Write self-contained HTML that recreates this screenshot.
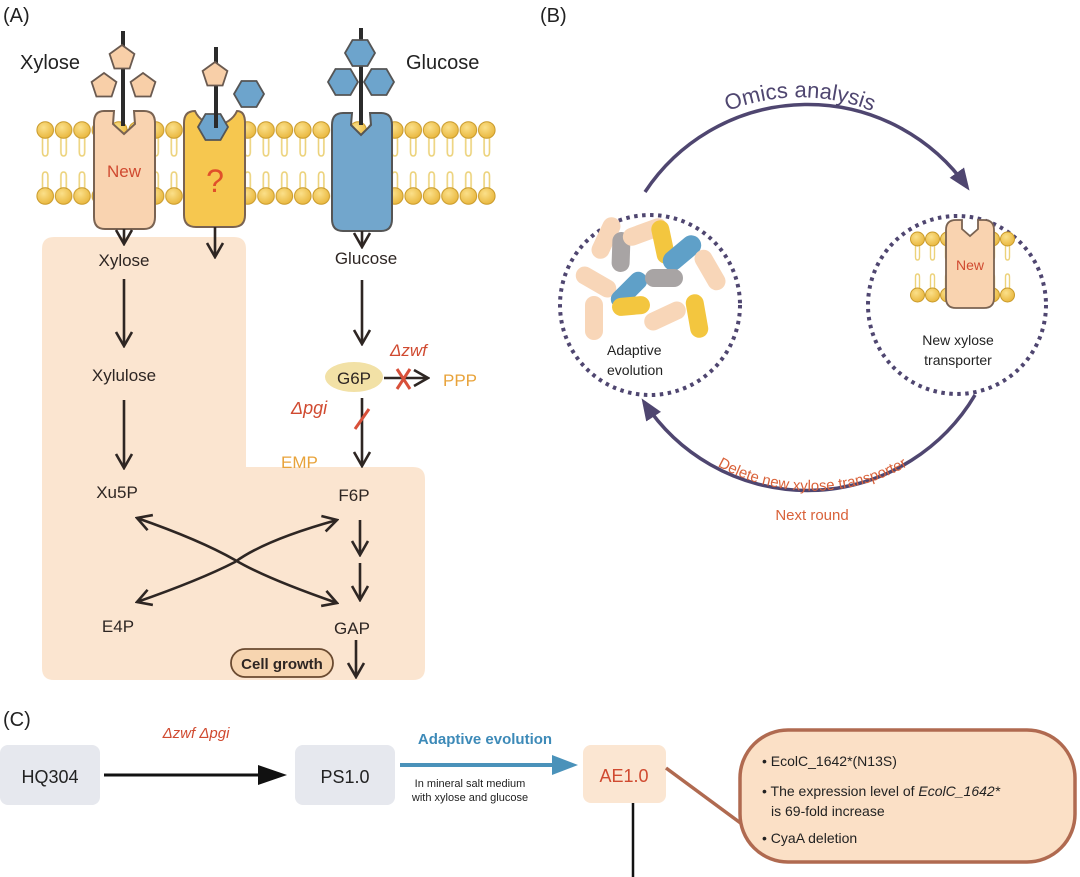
<!DOCTYPE html>
<html><head><meta charset="utf-8"><style>
html,body{margin:0;padding:0;background:#fff;}
svg{display:block;font-family:"Liberation Sans",Arial,sans-serif;}
</style></head><body>
<svg width="1080" height="877" viewBox="0 0 1080 877" xmlns="http://www.w3.org/2000/svg">
<defs>
<radialGradient id="hd" cx="0.4" cy="0.35" r="0.7"><stop offset="0" stop-color="#fbe08a"/><stop offset="1" stop-color="#e8b53a"/></radialGradient>
<pattern id="mem" x="36" y="120" width="18.4" height="90" patternUnits="userSpaceOnUse">
<path d="M6.5 18 V32 Q6.5 36 9.2 36 Q11.9 36 11.9 32 V18 M6.5 70 V56 Q6.5 52 9.2 52 Q11.9 52 11.9 56 V70" fill="none" stroke="#ecd27a" stroke-width="1.6"/>
<circle cx="9.2" cy="10" r="8.3" fill="url(#hd)" stroke="#c99a2a" stroke-width="1"/>
<circle cx="9.2" cy="76" r="8.3" fill="url(#hd)" stroke="#c99a2a" stroke-width="1"/>
</pattern>
<pattern id="mem2" x="910" y="230" width="15" height="75" patternUnits="userSpaceOnUse">
<path d="M5.5 15 V27 Q5.5 30 7.5 30 Q9.5 30 9.5 27 V15 M5.5 58 V47 Q5.5 44 7.5 44 Q9.5 44 9.5 47 V58" fill="none" stroke="#ecd27a" stroke-width="1.4"/>
<circle cx="7.5" cy="9" r="7" fill="url(#hd)" stroke="#c99a2a" stroke-width="1"/>
<circle cx="7.5" cy="65" r="7" fill="url(#hd)" stroke="#c99a2a" stroke-width="1"/>
</pattern>
<marker id="ov" viewBox="0 0 20 20" refX="18" refY="10" markerWidth="20" markerHeight="20" markerUnits="userSpaceOnUse" orient="auto-start-reverse"><path d="M4 2 L18 10 L4 18" fill="none" stroke="#2e2623" stroke-width="2.6"/></marker>
<marker id="pa" viewBox="0 0 20 20" refX="16" refY="10" markerWidth="22" markerHeight="22" markerUnits="userSpaceOnUse" orient="auto"><path d="M0 2 L20 10 L0 18 Z" fill="#4f4670"/></marker>
<polygon id="pent" points="0,-13 12.4,-4 7.6,10.5 -7.6,10.5 -12.4,-4" fill="#f8cfa8" stroke="#6a5a50" stroke-width="1.8"/>
<polygon id="hex" points="-15,0 -7.5,-13 7.5,-13 15,0 7.5,13 -7.5,13" fill="#6da4cc" stroke="#555" stroke-width="1.8"/>
</defs>

<text x="3" y="22" font-size="20" fill="#222">(A)</text>
<path d="M54 237 H234 Q246 237 246 249 V467 H413 Q425 467 425 479 V668 Q425 680 413 680 H54 Q42 680 42 668 V249 Q42 237 54 237 Z" fill="#fbe5d0"/>
<rect x="36" y="120" width="460" height="90" fill="url(#mem)"/>

<path d="M104 111 H114 L113 124 L124 134 L135 124 L134 111 H144 Q155 111 155 123 V217 Q155 229 144 229 H105 Q94 229 94 217 V123 Q94 111 104 111 Z" fill="#f9d3b0" stroke="#7a6352" stroke-width="2"/>
<text x="124" y="177" font-size="17" fill="#d04a30" text-anchor="middle">New</text>
<path d="M195 111 A23 23 0 0 0 237 111 Q245 111 245 123 V215 Q245 227 233 227 H196 Q184 227 184 215 V123 Q184 111 195 111 Z" fill="#f6c74f" stroke="#7a6352" stroke-width="2"/>
<text x="215" y="192" font-size="32" fill="#e0502a" text-anchor="middle">?</text>
<path d="M343 113 H352 L351 125 L361 135 L371 125 L370 113 H381 Q392 113 392 125 V219 Q392 231 381 231 H343 Q332 231 332 219 V125 Q332 113 343 113 Z" fill="#72a6cc" stroke="#555" stroke-width="2"/>

<line x1="123" y1="31" x2="123" y2="126" stroke="#2b2b2b" stroke-width="4"/>
<line x1="216" y1="47" x2="216" y2="128" stroke="#2b2b2b" stroke-width="4"/>
<line x1="361" y1="28" x2="361" y2="125" stroke="#2b2b2b" stroke-width="4"/>

<use href="#pent" x="122" y="58"/>
<use href="#pent" x="104" y="86"/>
<use href="#pent" x="143" y="86"/>
<use href="#pent" x="215" y="75"/>
<use href="#hex" x="360" y="53"/>
<use href="#hex" x="343" y="82"/>
<use href="#hex" x="379" y="82"/>
<use href="#hex" x="249" y="94"/>
<use href="#hex" x="213" y="127"/>
<line x1="216" y1="112" x2="216" y2="128" stroke="#2b2b2b" stroke-width="4"/>
<text x="20" y="69" font-size="20" fill="#222">Xylose</text>
<text x="406" y="69" font-size="20" fill="#222">Glucose</text>

<g stroke="#2e2623" stroke-width="2.6" fill="none">
<line x1="124" y1="229" x2="124" y2="244" marker-end="url(#ov)"/>
<line x1="215" y1="227" x2="215" y2="257" marker-end="url(#ov)"/>
<line x1="362" y1="231" x2="362" y2="247" marker-end="url(#ov)"/>
<line x1="124" y1="279" x2="124" y2="346" marker-end="url(#ov)"/>
<line x1="124" y1="400" x2="124" y2="468" marker-end="url(#ov)"/>
<line x1="362" y1="280" x2="362" y2="344" marker-end="url(#ov)"/>
<line x1="384" y1="378" x2="428" y2="378" marker-end="url(#ov)"/>
<line x1="362" y1="398" x2="362" y2="466" marker-end="url(#ov)"/>
<line x1="360" y1="520" x2="360" y2="555" marker-end="url(#ov)"/>
<line x1="360" y1="563" x2="360" y2="600" marker-end="url(#ov)"/>
<line x1="356" y1="640" x2="356" y2="677" marker-end="url(#ov)"/>
<path d="M137 518 Q200 540 235 560 Q265 578 337 603" marker-start="url(#ov)" marker-end="url(#ov)"/>
<path d="M137 602 Q200 580 235 562 Q265 540 337 520" marker-start="url(#ov)" marker-end="url(#ov)"/>
</g>
<g stroke="#d8503a" stroke-width="3">
<line x1="397" y1="369" x2="410" y2="389"/><line x1="410" y1="369" x2="397" y2="389"/>
<line x1="355" y1="429" x2="369" y2="409"/>
</g>
<g font-size="17" fill="#2e2623" text-anchor="middle">
<text x="124" y="266">Xylose</text>
<text x="366" y="264">Glucose</text>
<text x="124" y="381">Xylulose</text>
<text x="117" y="498">Xu5P</text>
<text x="118" y="632">E4P</text>
<text x="354" y="501">F6P</text>
<text x="352" y="634">GAP</text>
</g>
<ellipse cx="354" cy="377" rx="29" ry="15" fill="#f2e1a6"/>
<text x="354" y="384" font-size="17" fill="#2e2623" text-anchor="middle">G6P</text>
<text x="443" y="386" font-size="17" fill="#e8a33a">PPP</text>
<text x="281" y="468" font-size="17" fill="#e8a33a">EMP</text>
<text x="390" y="356" font-size="17" fill="#d04a30" font-style="italic">Δzwf</text>
<text x="291" y="414" font-size="18" fill="#d04a30" font-style="italic">Δpgi</text>
<rect x="231" y="649" width="102" height="28" rx="14" fill="#f7d5b0" stroke="#6a4a30" stroke-width="1.8"/>
<text x="282" y="669" font-size="15" font-weight="bold" fill="#2e2623" text-anchor="middle">Cell growth</text>

<text x="540" y="22" font-size="20" fill="#222">(B)</text>
<path d="M645 192 A195 195 0 0 1 967 187" fill="none" stroke="#4f4670" stroke-width="3.5" marker-end="url(#pa)"/>
<path d="M975 395 A195 195 0 0 1 644 402" fill="none" stroke="#4f4670" stroke-width="3.5" marker-end="url(#pa)"/>
<path id="top" d="M695 128 A195 195 0 0 1 905 128" fill="none"/>
<text font-size="22" fill="#4f4670"><textPath href="#top" startOffset="50%" text-anchor="middle">Omics analysis</textPath></text>
<path id="bot" d="M700 455 A195 195 0 0 0 925 455" fill="none"/>
<text font-size="15" fill="#d9623a"><textPath href="#bot" startOffset="50%" text-anchor="middle">Delete new xylose transporter</textPath></text>
<text x="812" y="520" font-size="15" fill="#d9623a" text-anchor="middle">Next round</text>
<circle cx="650" cy="305" r="90" fill="none" stroke="#4f4670" stroke-width="4" stroke-dasharray="3.5 4.5"/>
<circle cx="957" cy="305" r="89" fill="none" stroke="#4f4670" stroke-width="4" stroke-dasharray="3.5 4.5"/>
<g>
<rect x="-9" y="-22" width="18" height="44" rx="9" fill="#f8d6b8" transform="translate(606,238) rotate(25)"/>
<rect x="-9" y="-20" width="18" height="40" rx="9" fill="#a8a4a4" transform="translate(621,252) rotate(2)"/>
<rect x="-9" y="-23" width="18" height="46" rx="9" fill="#f8d6b8" transform="translate(645,232) rotate(70)"/>
<rect x="-9" y="-22" width="18" height="44" rx="9" fill="#f3c63f" transform="translate(663,242) rotate(-12)"/>
<rect x="-10" y="-22" width="20" height="44" rx="10" fill="#5fa0c8" transform="translate(682,253) rotate(50)"/>
<rect x="-9" y="-22" width="18" height="44" rx="9" fill="#f8d6b8" transform="translate(710,270) rotate(-30)"/>
<rect x="-9" y="-22" width="18" height="44" rx="9" fill="#f8d6b8" transform="translate(596,282) rotate(-60)"/>
<rect x="-9" y="-22" width="18" height="44" rx="9" fill="#5fa0c8" transform="translate(629,290) rotate(45)"/>
<rect x="-19" y="-9" width="38" height="18" rx="9" fill="#a8a4a4" transform="translate(664,278)"/>
<rect x="-19" y="-9" width="38" height="18" rx="9" fill="#f3c63f" transform="translate(631,306) rotate(-5)"/>
<rect x="-9" y="-22" width="18" height="44" rx="9" fill="#f8d6b8" transform="translate(665,316) rotate(65)"/>
<rect x="-9" y="-22" width="18" height="44" rx="9" fill="#f3c63f" transform="translate(697,316) rotate(-10)"/>
<rect x="-9" y="-22" width="18" height="44" rx="9" fill="#f8d6b8" transform="translate(594,318) rotate(0)"/>
</g>
<text x="607" y="355" font-size="14" fill="#222">Adaptive</text>
<text x="607" y="375" font-size="14" fill="#222">evolution</text>
<rect x="910" y="230" width="105" height="75" fill="url(#mem2)"/>
<path d="M956 220 H962 L962 229 L970 236 L978 229 L978 220 H984 Q994 220 994 230 V298 Q994 308 984 308 H956 Q946 308 946 298 V230 Q946 220 956 220 Z" fill="#f9d3b0" stroke="#7a6352" stroke-width="1.8"/>
<text x="970" y="270" font-size="14" fill="#d04a30" text-anchor="middle">New</text>
<text x="958" y="345" font-size="14" fill="#222" text-anchor="middle">New xylose</text>
<text x="958" y="365" font-size="14" fill="#222" text-anchor="middle">transporter</text>

<text x="3" y="726" font-size="20" fill="#222">(C)</text>
<rect x="0" y="745" width="100" height="60" rx="8" fill="#e6e8ee"/>
<text x="50" y="783" font-size="18" fill="#222" text-anchor="middle">HQ304</text>
<line x1="104" y1="775" x2="262" y2="775" stroke="#111" stroke-width="3"/>
<polygon points="258,765 287,775 258,785" fill="#111"/>
<text x="196" y="738" font-size="15" fill="#d04a30" font-style="italic" text-anchor="middle">Δzwf Δpgi</text>
<rect x="295" y="745" width="100" height="60" rx="8" fill="#e6e8ee"/>
<text x="345" y="783" font-size="18" fill="#222" text-anchor="middle">PS1.0</text>
<line x1="400" y1="765" x2="555" y2="765" stroke="#4a92ba" stroke-width="4"/>
<polygon points="552,755 578,765 552,775" fill="#4a92ba"/>
<text x="485" y="744" font-size="15" font-weight="bold" fill="#3d8ab8" text-anchor="middle">Adaptive evolution</text>
<text x="470" y="787" font-size="11" fill="#222" text-anchor="middle">In mineral salt medium</text>
<text x="470" y="801" font-size="11" fill="#222" text-anchor="middle">with xylose and glucose</text>
<rect x="583" y="745" width="83" height="58" rx="8" fill="#fbe6d2"/>
<text x="624" y="782" font-size="18" fill="#d04a30" text-anchor="middle">AE1.0</text>
<line x1="633" y1="803" x2="633" y2="877" stroke="#111" stroke-width="2.5"/>
<path d="M666 768 L750 830" stroke="#b06a50" stroke-width="3.5"/>
<rect x="740" y="730" width="335" height="132" rx="48" fill="#fbe0c6" stroke="#b06a50" stroke-width="3.5"/>
<g font-size="14" fill="#222">
<text x="762" y="766">• EcolC_1642*(N13S)</text>
<text x="762" y="796">• The expression level of <tspan font-style="italic">EcolC_1642*</tspan></text>
<text x="771" y="816">is 69-fold increase</text>
<text x="762" y="843">• CyaA deletion</text>
</g>
</svg>
</body></html>
